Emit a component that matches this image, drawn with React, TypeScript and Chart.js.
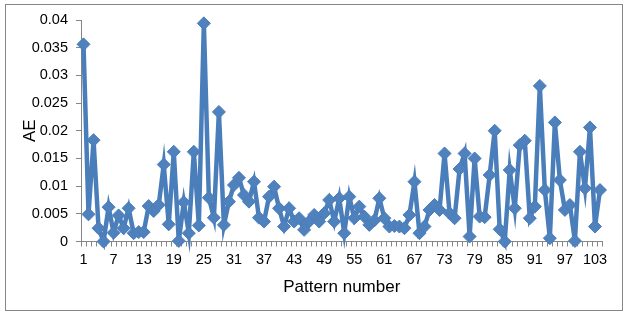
import React, { useEffect, useRef } from "react";
import { Chart, registerables } from "chart.js";

Chart.register(...registerables);

const patternNumbers: string[] = Array.from({ length: 104 }, (_, i) => String(i + 1));

const aeValues: number[] = [
  0.0356, 0.0049, 0.0183, 0.0024, 0.0, 0.0062, 0.0016, 0.0047, 0.0024, 0.006,
  0.0015, 0.0017, 0.0017, 0.0064, 0.0055, 0.0066, 0.0139, 0.0031, 0.0162, 0.0001,
  0.0071, 0.0015, 0.0162, 0.0029, 0.0394, 0.0079, 0.0043, 0.0234, 0.003, 0.0072,
  0.0102, 0.0115, 0.0084, 0.0072, 0.0108, 0.0043, 0.0036, 0.0081, 0.0099, 0.006,
  0.0027, 0.006, 0.0036, 0.0042, 0.0021, 0.0036, 0.0048, 0.0036, 0.0051, 0.0075,
  0.0036, 0.0078, 0.0015, 0.0081, 0.0042, 0.0063, 0.0045, 0.003, 0.0038, 0.0078,
  0.0042, 0.0027, 0.0028, 0.0027, 0.0024, 0.0048, 0.0108, 0.0015, 0.0027, 0.0057,
  0.0066, 0.0057, 0.0159, 0.0051, 0.0042, 0.0131, 0.0159, 0.0009, 0.015, 0.0045,
  0.0044, 0.012, 0.02, 0.0022, 0.0, 0.0129, 0.006, 0.0174, 0.0182, 0.0042,
  0.0063, 0.0281, 0.0093, 0.0006, 0.0215, 0.0111, 0.0057, 0.0066, 0.0001, 0.0162,
  0.0096, 0.0206, 0.0027, 0.0093,
];

const yTickStep = 0.005;
const yMax = 0.04;
const xLabelEvery = 6;

const FONT = "Arial, 'Liberation Sans', sans-serif";
const AXIS_GRAY = "#868686";

const borderPlugin = {
  id: "outerBorder",
  beforeDraw(chart: any) {
    const ctx = chart.ctx;
    ctx.save();
    ctx.fillStyle = "#ffffff";
    ctx.fillRect(0, 0, chart.width, chart.height);
    ctx.strokeStyle = AXIS_GRAY;
    ctx.lineWidth = 1;
    ctx.strokeRect(5.5, 4.5, 617, 306);
    ctx.restore();
  },
};

export default function App() {
  const canvasRef = useRef<HTMLCanvasElement | null>(null);

  useEffect(() => {
    if (!canvasRef.current) return;
    const chart = new Chart(canvasRef.current, {
      type: "line",
      data: {
        labels: patternNumbers,
        datasets: [
          {
            label: "AE",
            data: aeValues,
            borderColor: "#4A7EBB",
            backgroundColor: "#4F81BD",
            borderWidth: 4.5,
            tension: 0,
            pointStyle: "rectRot",
            pointRadius: 6.5,
            pointBorderWidth: 1,
            pointBorderColor: "#4A7EBB",
            pointBackgroundColor: "#4F81BD",
            clip: false as any,
          },
        ],
      },
      plugins: [borderPlugin],
      options: {
        animation: false,
        responsive: false,
        devicePixelRatio: 1,
        layout: { padding: { left: 0, right: 26.5, top: 20, bottom: 0 } },
        plugins: {
          legend: { display: false },
          tooltip: { enabled: false },
        },
        scales: {
          x: {
            type: "category",
            offset: true,
            grid: {
              offset: true,
              drawOnChartArea: false,
              drawTicks: true,
              tickLength: 5,
              color: AXIS_GRAY,
            },
            border: { display: true, color: AXIS_GRAY, width: 1 },
            ticks: {
              autoSkip: false,
              maxRotation: 0,
              minRotation: 0,
              padding: 5,
              color: "#000000",
              font: { family: FONT, size: 14.5 },
              callback: (_v: any, index: number) =>
                index % xLabelEvery === 0 ? patternNumbers[index] : "",
            },
            title: {
              display: true,
              text: "Pattern number",
              color: "#000000",
              font: { family: FONT, size: 17 },
              padding: { top: 0, bottom: 20 },
            },
            afterFit: (scale: any) => {
              scale.height = 76.5;
            },
          },
          y: {
            min: 0,
            max: yMax,
            grid: {
              drawOnChartArea: false,
              drawTicks: true,
              tickLength: 5,
              color: AXIS_GRAY,
            },
            border: { display: true, color: AXIS_GRAY, width: 1 },
            ticks: {
              stepSize: yTickStep,
              padding: 8,
              color: "#000000",
              font: { family: FONT, size: 14.5 },
              callback: (v: any) => String(Number(Number(v).toFixed(3))),
            },
            title: {
              display: true,
              text: "AE",
              color: "#000000",
              font: { family: FONT, size: 17 },
              padding: { top: 20, bottom: 0 },
            },
            afterFit: (scale: any) => {
              scale.width = 81;
            },
          },
        },
      },
    });
    return () => chart.destroy();
  }, []);

  return (
    <div style={{ position: "absolute", left: 0, top: 0, width: 629, height: 318 }}>
      <canvas ref={canvasRef} width={629} height={318} />
    </div>
  );
}
